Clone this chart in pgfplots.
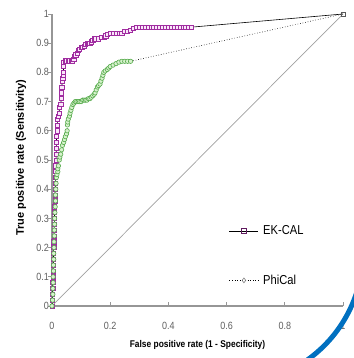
\documentclass[border=0pt]{standalone}
\usepackage{pgfplots}
\pgfplotsset{compat=1.18}
\usepackage{pgfplotstable}
\usepackage{fontspec}
\setmainfont{Liberation Sans}[FakeStretch=0.86]
\newfontfamily\ylabfont{Liberation Sans}
\definecolor{ekedge}{RGB}{160,45,160}
\definecolor{ekfill}{RGB}{250,230,250}
\definecolor{phedge}{RGB}{85,170,75}
\definecolor{phfill}{RGB}{215,242,205}
\definecolor{axgray}{RGB}{150,150,150}
\definecolor{ticktext}{RGB}{95,95,95}
\definecolor{arcblue}{RGB}{0,112,192}

\pgfplotstableread{
x y
0 0
0.002 0.02
0.002 0.04
0.003 0.06
0.003 0.08
0.004 0.10
0.004 0.12
0.005 0.14
0.005 0.16
0.005 0.18
0.006 0.20
0.006 0.22
0.007 0.24
0.007 0.26
0.008 0.28
0.008 0.30
0.009 0.32
0.009 0.34
0.010 0.36
0.010 0.38
0.011 0.40
0.011 0.42
0.012 0.44
0.012 0.46
0.013 0.48
0.014 0.50
0.014 0.52
0.015 0.54
0.015 0.56
0.016 0.58
0.017 0.60
0.018 0.62
0.019 0.64
0.022 0.65
0.024 0.66
0.026 0.68
0.030 0.69
0.032 0.71
0.033 0.73
0.034 0.75
0.035 0.77
0.037 0.78
0.038 0.79
0.039 0.80
0.040 0.82
0.040 0.835
0.045 0.84
0.050 0.84
0.055 0.84
0.060 0.84
0.065 0.84
0.070 0.84
0.075 0.845
0.078 0.855
0.082 0.86
0.088 0.865
0.090 0.875
0.095 0.88
0.100 0.885
0.105 0.885
0.110 0.89
0.115 0.895
0.120 0.90
0.125 0.90
0.130 0.90
0.135 0.905
0.140 0.91
0.145 0.915
0.150 0.915
0.160 0.915
0.170 0.92
0.180 0.92
0.185 0.925
0.190 0.93
0.200 0.935
0.210 0.935
0.220 0.935
0.230 0.935
0.240 0.935
0.250 0.94
0.260 0.94
0.270 0.945
0.280 0.95
0.290 0.955
0.300 0.955
0.310 0.955
0.320 0.955
0.330 0.955
0.340 0.955
0.350 0.955
0.360 0.955
0.370 0.955
0.380 0.955
0.390 0.955
0.400 0.955
0.410 0.955
0.420 0.955
0.430 0.955
0.440 0.955
0.450 0.955
0.460 0.955
0.470 0.955
0.480 0.955
}\ekcal

\pgfplotstableread{
x y
0 0
0.002 0.02
0.003 0.04
0.003 0.06
0.004 0.08
0.004 0.10
0.005 0.12
0.005 0.14
0.006 0.16
0.006 0.18
0.007 0.20
0.007 0.22
0.008 0.24
0.008 0.26
0.009 0.28
0.009 0.30
0.010 0.32
0.011 0.34
0.012 0.36
0.012 0.38
0.013 0.40
0.014 0.42
0.015 0.44
0.017 0.45
0.020 0.46
0.020 0.47
0.022 0.48
0.025 0.50
0.027 0.51
0.030 0.52
0.033 0.535
0.036 0.55
0.040 0.56
0.043 0.57
0.046 0.58
0.050 0.59
0.052 0.60
0.053 0.62
0.054 0.63
0.056 0.64
0.060 0.65
0.062 0.66
0.065 0.67
0.068 0.68
0.072 0.69
0.076 0.695
0.080 0.70
0.085 0.70
0.090 0.70
0.095 0.70
0.100 0.70
0.105 0.705
0.110 0.705
0.115 0.705
0.120 0.705
0.125 0.71
0.130 0.71
0.135 0.715
0.140 0.72
0.145 0.725
0.148 0.73
0.152 0.74
0.156 0.75
0.160 0.755
0.165 0.76
0.168 0.77
0.172 0.78
0.175 0.79
0.178 0.80
0.183 0.805
0.190 0.81
0.195 0.815
0.200 0.82
0.210 0.825
0.220 0.83
0.230 0.835
0.240 0.838
0.250 0.838
0.260 0.838
0.270 0.838
}\phical

\begin{document}
\begin{tikzpicture}
\useasboundingbox (-52bp,-52bp) rectangle (302bp,306bp);
\begin{axis}[
  scale only axis,
  width=291bp, height=292bp,
  at={(0,0)}, anchor=south west,
  xmin=0, xmax=1, ymin=0, ymax=1,
  axis x line=bottom, axis y line=left,
  axis line style={-, axgray, line width=1.4bp},
  xtick={0,0.2,0.4,0.6,0.8,1},
  ytick={0,0.1,0.2,0.3,0.4,0.5,0.6,0.7,0.8,0.9,1},
  tick align=outside,
  major tick length=3.5bp,
  tick style={axgray, line width=0.8bp},
  xtick style={yshift=3.5bp},
  /pgf/number format/assume math mode=true,
  tick label style={font=\fontsize{10.5}{12}\selectfont, text=ticktext},
  xticklabel style={yshift=-9bp},
  yticklabel style={xshift=4bp},
  xlabel={False positive rate (1 - Specificity)},
  ylabel={True positive rate (Sensitivity)},
  xlabel style={at={(axis description cs:0.5,-0.134)}, anchor=center, font=\bfseries\fontsize{9.8}{11}\selectfont},
  ylabel style={at={(axis description cs:-0.1065,0.508)}, anchor=center, font=\ylabfont\bfseries\fontsize{11}{12}\selectfont},
  clip=false,
  legend image code/.code={\draw[mark repeat=2,mark phase=2,#1] plot coordinates {(0bp,0bp) (14.5bp,0bp) (29bp,0bp)};},
  legend style={at={(rel axis cs:0.608,0.283)}, anchor=north west, draw=none, fill=none, inner sep=0pt, row sep=35pt, font=\fontsize{13}{15}\selectfont, cells={anchor=west}, nodes={inner xsep=4.5bp}},
]
\addplot[color={rgb,255:red,160;green,160;blue,160}, line width=0.7bp, forget plot] coordinates {(0,0) (1,1)};
\addplot[black, line width=0.6bp, forget plot] table {\ekcal};
\addplot[black, line width=0.6bp, forget plot] coordinates {(0.48,0.955) (1,1)};
\addplot[black, line width=0.6bp, dotted, forget plot] table {\phical};
\addplot[black, line width=0.6bp, dotted, forget plot] coordinates {(0.27,0.838) (1,1)};
\addplot[only marks, mark=square*, mark size=2.1bp, mark options={draw=ekedge, fill=ekfill, line width=0.6bp}, forget plot] table {\ekcal};
\addplot[only marks, mark=*, mark size=2.2bp, mark options={draw=phedge, fill=phfill, line width=0.6bp}, forget plot] table {\phical};
\addplot[only marks, mark=square, mark size=2bp, mark options={draw=gray!70!black, fill=white, line width=0.6bp}, forget plot] coordinates {(1,1)};
\addlegendimage{black, line width=0.6bp, mark=square, mark size=2.2bp, mark options={draw=ekedge!60!black, solid}}
\addlegendentry{EK-CAL}
\addlegendimage{black, line width=0.6bp, dotted, mark=diamond, mark size=2.4bp, mark options={draw=gray, solid}}
\addlegendentry{PhiCal}
\end{axis}
\draw[line width=5bp, arcblue] (178.5bp,54bp) ++(-10:132.5bp) arc[start angle=-10, end angle=-70, radius=132.5bp];
\end{tikzpicture}
\end{document}
